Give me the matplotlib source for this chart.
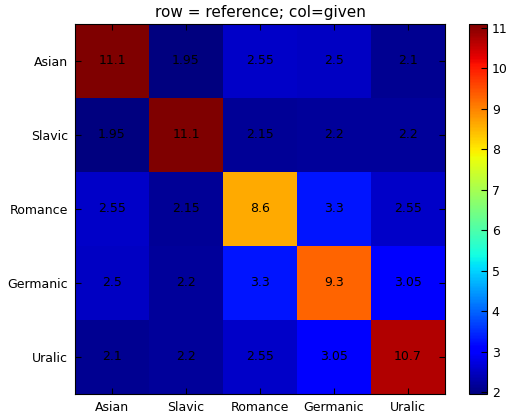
import matplotlib
matplotlib.use("Agg")
import matplotlib.pyplot as plt
import numpy as np

groups = ["Asian", "Slavic", "Romance", "Germanic", "Uralic"]
row_asian = [11.1, 1.95, 2.55, 2.5, 2.1]
row_slavic = [1.95, 11.1, 2.15, 2.2, 2.2]
row_romance = [2.55, 2.15, 8.6, 3.3, 2.55]
row_germanic = [2.5, 2.2, 3.3, 9.3, 3.05]
row_uralic = [2.1, 2.2, 2.55, 3.05, 10.7]

mat = np.array([row_asian, row_slavic, row_romance, row_germanic, row_uralic])

fig = plt.figure(figsize=(5.1, 4.13), dpi=100, facecolor="white")
ax = fig.add_axes([75 / 510, 19 / 413, 370 / 510, 370 / 413])
cax = fig.add_axes([469 / 510, 19 / 413, 18 / 510, 370 / 413])

im = ax.imshow(mat, cmap="jet", interpolation="nearest", aspect="auto",
               vmin=mat.min(), vmax=mat.max())
for i in range(len(groups)):
    for j in range(len(groups)):
        ax.text(j, i, "%g" % mat[i, j], ha="center", va="center",
                fontsize=9, color="black")

ax.set_xticks(range(len(groups)))
ax.set_yticks(range(len(groups)))
ax.set_xticklabels(groups, fontsize=9)
ax.set_yticklabels(groups, fontsize=9)
ax.tick_params(direction="in", top=True, right=True, length=4, pad=5)
ax.set_title("row = reference; col=given", fontsize=11, pad=5)

cb = fig.colorbar(im, cax=cax, ticks=range(2, 12))
cb.ax.tick_params(direction="in", length=4, labelsize=9)

fig.savefig("out.png", dpi=100, facecolor="white")
